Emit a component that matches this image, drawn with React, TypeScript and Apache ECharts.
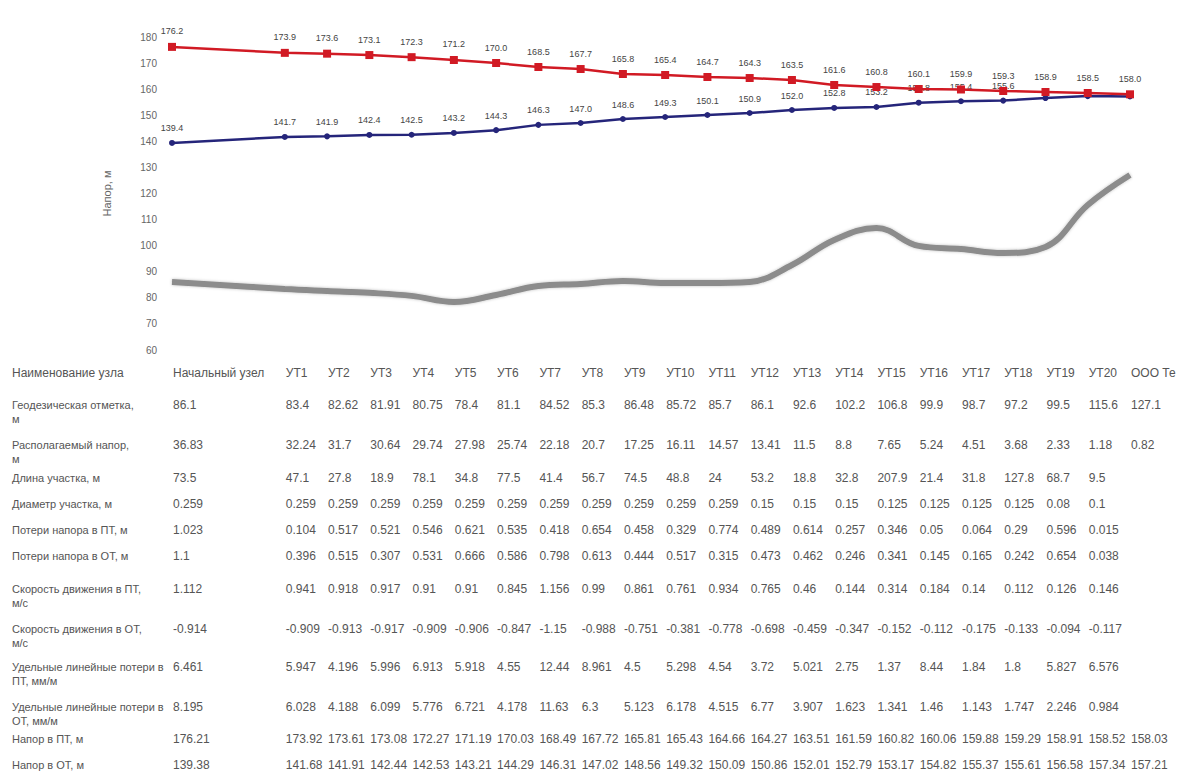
import React, { useEffect, useRef } from "react";
import * as echarts from "echarts";

// ---- data ----
const nodes = [
  "Начальный узел", "УТ1", "УТ2", "УТ3", "УТ4", "УТ5", "УТ6", "УТ7", "УТ8", "УТ9", "УТ10",
  "УТ11", "УТ12", "УТ13", "УТ14", "УТ15", "УТ16", "УТ17", "УТ18", "УТ19", "УТ20", "ООО Теплоком",
];

const geodetic = [86.1, 83.4, 82.62, 81.91, 80.75, 78.4, 81.1, 84.52, 85.3, 86.48, 85.72, 85.7, 86.1, 92.6, 102.2, 106.8, 99.9, 98.7, 97.2, 99.5, 115.6, 127.1];
const headSupply = [176.21, 173.92, 173.61, 173.08, 172.27, 171.19, 170.03, 168.49, 167.72, 165.81, 165.43, 164.66, 164.27, 163.51, 161.59, 160.82, 160.06, 159.88, 159.29, 158.91, 158.52, 158.03];
const headReturn = [139.38, 141.68, 141.91, 142.44, 142.53, 143.21, 144.29, 146.31, 147.02, 148.56, 149.32, 150.09, 150.86, 152.01, 152.79, 153.17, 154.82, 155.37, 155.61, 156.58, 157.34, 157.21];
const availHead = [36.83, 32.24, 31.7, 30.64, 29.74, 27.98, 25.74, 22.18, 20.7, 17.25, 16.11, 14.57, 13.41, 11.5, 8.8, 7.65, 5.24, 4.51, 3.68, 2.33, 1.18, 0.82];
const segLength = [73.5, 47.1, 27.8, 18.9, 78.1, 34.8, 77.5, 41.4, 56.7, 74.5, 48.8, 24.0, 53.2, 18.8, 32.8, 207.9, 21.4, 31.8, 127.8, 68.7, 9.5, null];
const segDiameter = [0.259, 0.259, 0.259, 0.259, 0.259, 0.259, 0.259, 0.259, 0.259, 0.259, 0.259, 0.259, 0.15, 0.15, 0.15, 0.125, 0.125, 0.125, 0.125, 0.08, 0.1, null];
const lossSupply = [1.023, 0.104, 0.517, 0.521, 0.546, 0.621, 0.535, 0.418, 0.654, 0.458, 0.329, 0.774, 0.489, 0.614, 0.257, 0.346, 0.05, 0.064, 0.29, 0.596, 0.015, null];
const lossReturn = [1.1, 0.396, 0.515, 0.307, 0.531, 0.666, 0.586, 0.798, 0.613, 0.444, 0.517, 0.315, 0.473, 0.462, 0.246, 0.341, 0.145, 0.165, 0.242, 0.654, 0.038, null];
const speedSupply = [1.112, 0.941, 0.918, 0.917, 0.91, 0.91, 0.845, 1.156, 0.99, 0.861, 0.761, 0.934, 0.765, 0.46, 0.144, 0.314, 0.184, 0.14, 0.112, 0.126, 0.146, null];
const speedReturn = [-0.914, -0.909, -0.913, -0.917, -0.909, -0.906, -0.847, -1.15, -0.988, -0.751, -0.381, -0.778, -0.698, -0.459, -0.347, -0.152, -0.112, -0.175, -0.133, -0.094, -0.117, null];
const specLossSupply = [6.461, 5.947, 4.196, 5.996, 6.913, 5.918, 4.55, 12.44, 8.961, 4.5, 5.298, 4.54, 3.72, 5.021, 2.75, 1.37, 8.44, 1.84, 1.8, 5.827, 6.576, null];
const specLossReturn = [8.195, 6.028, 4.188, 6.099, 5.776, 6.721, 4.178, 11.63, 6.3, 5.123, 6.178, 4.515, 6.77, 3.907, 1.623, 1.341, 1.46, 1.143, 1.747, 2.246, 0.984, null];

const headerLabel = "Наименование узла";
const rowLabels = [
  "Геодезическая отметка,\nм",
  "Располагаемый напор,\nм",
  "Длина участка, м",
  "Диаметр участка, м",
  "Потери напора в ПТ, м",
  "Потери напора в ОТ, м",
  "Скорость движения в ПТ,\nм/с",
  "Скорость движения в ОТ,\nм/с",
  "Удельные линейные потери в\nПТ, мм/м",
  "Удельные линейные потери в\nОТ, мм/м",
  "Напор в ПТ, м",
  "Напор в ОТ, м",
];
const rowValues = [
  geodetic, availHead, segLength, segDiameter, lossSupply, lossReturn,
  speedSupply, speedReturn, specLossSupply, specLossReturn, headSupply, headReturn,
];
const yAxisName = "Напор, м";

// ---- layout ----
const W = 1197;
const H = 775;
const GRID_LEFT = 172;
const GRID_RIGHT = 67;
const GRID_TOP = 37;
const GRID_BOTTOM = 425;
const FIRST_GAP = 2.67; // first column is wider (holds the start node)
const HEADER_Y = 373;
const ROW_Y = [405, 445, 478, 504, 530, 556, 589, 629, 667, 707, 739, 765];
const FONT = "'Liberation Sans', Arial, sans-serif";

export default function App() {
  const ref = useRef<HTMLDivElement>(null);

  useEffect(() => {
    if (!ref.current) return;
    const chart = echarts.init(ref.current, null, { renderer: "svg" });

    const slot = (i: number) => (i === 0 ? 0 : i + FIRST_GAP - 1);
    const slotMax = slot(nodes.length - 1);
    const px = (i: number) => GRID_LEFT + (slot(i) / slotMax) * (W - GRID_LEFT - GRID_RIGHT);

    const toXY = (arr: number[]) => arr.map((v, i) => [slot(i), v]);

    const graphics: any[] = [];
    graphics.push({
      type: "text",
      x: 12,
      y: HEADER_Y,
      style: { text: headerLabel, fill: "#555", font: `12px ${FONT}`, align: "left", verticalAlign: "middle" },
    });
    nodes.forEach((n, i) => {
      const last = i === nodes.length - 1;
      graphics.push({
        type: "text",
        x: px(i) + 1,
        y: HEADER_Y,
        style: {
          text: n,
          fill: "#555",
          font: `12px ${FONT}`,
          align: "left",
          verticalAlign: "middle",
          width: last ? W - px(i) - 3 : undefined,
          overflow: last ? "truncate" : undefined,
          ellipsis: last ? "" : undefined,
        },
      });
    });
    rowLabels.forEach((lab, r) => {
      graphics.push({
        type: "text",
        x: 12,
        y: ROW_Y[r] - 7,
        style: { text: lab, fill: "#555", font: `11px ${FONT}`, lineHeight: 14, align: "left", verticalAlign: "top" },
      });
      rowValues[r].forEach((v, i) => {
        if (v === null || v === undefined) return;
        const txt = r >= 10 ? (v as number).toFixed(2) : String(v);
        graphics.push({
          type: "text",
          x: px(i) + 1,
          y: ROW_Y[r],
          style: { text: txt, fill: "#555", font: `12px ${FONT}`, align: "left", verticalAlign: "middle" },
        });
      });
    });

    const labelCfg = {
      show: true,
      position: "top",
      distance: 7,
      fontSize: 9,
      color: "#444",
      fontFamily: FONT,
      formatter: (p: any) => Number(p.value[1]).toFixed(1),
    };

    chart.setOption({
      animation: false,
      backgroundColor: "#fff",
      grid: { left: GRID_LEFT, right: GRID_RIGHT, top: GRID_TOP, bottom: GRID_BOTTOM },
      xAxis: { type: "value", min: 0, max: slotMax, show: false },
      yAxis: {
        type: "value",
        min: 60,
        max: 180,
        interval: 10,
        name: yAxisName,
        nameLocation: "middle",
        nameGap: 60,
        nameRotate: 90,
        nameTextStyle: { color: "#666", fontSize: 11, fontFamily: FONT },
        axisLine: { show: false },
        axisTick: { show: false },
        splitLine: { show: false },
        axisLabel: { color: "#666", fontSize: 10, margin: 15, fontFamily: FONT },
      },
      series: [
        {
          name: "Геодезическая отметка",
          type: "line",
          smooth: 0.4,
          data: toXY(geodetic),
          showSymbol: false,
          lineStyle: { color: "#8c8c8c", width: 6, shadowBlur: 3, shadowColor: "rgba(0,0,0,0.25)" },
          z: 1,
        },
        {
          name: "Напор в ОТ",
          type: "line",
          data: toXY(headReturn),
          symbol: "circle",
          symbolSize: 6,
          lineStyle: { color: "#25257a", width: 2.5 },
          itemStyle: { color: "#25257a" },
          label: labelCfg,
          labelLayout: { hideOverlap: true },
          z: 2,
        },
        {
          name: "Напор в ПТ",
          type: "line",
          data: toXY(headSupply),
          symbol: "rect",
          symbolSize: 8,
          lineStyle: { color: "#d11a24", width: 2.5 },
          itemStyle: { color: "#d11a24" },
          label: labelCfg,
          labelLayout: { hideOverlap: true },
          z: 3,
        },
      ],
      graphic: graphics,
    });

    return () => {
      chart.dispose();
    };
  }, []);

  return (
    <div
      ref={ref}
      style={{ position: "fixed", left: 0, top: 0, width: W, height: H, background: "#fff" }}
    />
  );
}
